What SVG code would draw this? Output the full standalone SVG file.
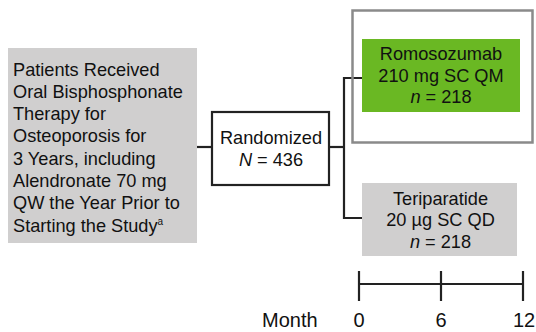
<svg xmlns="http://www.w3.org/2000/svg" width="536" height="332" viewBox="0 0 536 332">
<style>
text{font-family:"Liberation Sans",Arial,sans-serif;font-size:18.2px;fill:#111}
.c{text-anchor:middle}
.t{font-size:20px}
.ln{stroke:#222;stroke-width:2.2;fill:none}
</style>
<rect width="536" height="332" fill="#fff"/>
<g id="connectors" class="ln">
<line x1="197" y1="147" x2="212" y2="147"/>
<polyline points="329,147 344,147"/>
<polyline points="363,78 344,78 344,218 362,218"/>
</g>
<g id="patients">
<rect x="8" y="48" width="189" height="195" fill="#d0cfcf"/>
<text x="13" y="75.5">Patients Received</text>
<text x="13" y="97.8">Oral Bisphosphonate</text>
<text x="13" y="120.1">Therapy for</text>
<text x="13" y="142.4">Osteoporosis for</text>
<text x="13" y="164.7">3 Years, including</text>
<text x="13" y="187">Alendronate 70 mg</text>
<text x="13" y="209.3">QW the Year Prior to</text>
<text x="13" y="231.6">Starting the Study<tspan font-size="10" dy="-7">a</tspan></text>
</g>
<g id="randomized">
<rect x="212" y="112" width="117" height="73" fill="#fff" stroke="#222" stroke-width="2.2"/>
<text class="c" x="271" y="144">Randomized</text>
<text class="c" x="271" y="166"><tspan font-style="italic">N</tspan> = 436</text>
</g>
<g id="romosozumab-frame">
<rect x="352.5" y="10.5" width="180" height="132" fill="none" stroke="#8a8a8a" stroke-width="2.5"/>
</g>
<g id="romosozumab">
<rect x="362" y="39" width="158" height="73" fill="#6ab823"/>
<text class="c" x="441" y="60">Romosozumab</text>
<text class="c" x="441" y="82">210 mg SC QM</text>
<text class="c" x="441" y="103"><tspan font-style="italic">n</tspan> = 218</text>
</g>
<g id="teriparatide">
<rect x="362" y="183" width="155" height="73" fill="#d0cfcf"/>
<text class="c" x="440.5" y="205">Teriparatide</text>
<text class="c" x="440.5" y="226">20 µg SC QD</text>
<text class="c" x="440.5" y="247.5"><tspan font-style="italic">n</tspan> = 218</text>
</g>
<g id="timeline" class="ln">
<line x1="359" y1="284" x2="523" y2="284"/>
<line x1="359" y1="271" x2="359" y2="301"/>
<line x1="441" y1="271" x2="441" y2="301"/>
<line x1="523" y1="271" x2="523" y2="301"/>
</g>
<g id="timeline-labels">
<text class="t" x="262" y="327">Month</text>
<text class="c t" x="359" y="327">0</text>
<text class="c t" x="441" y="327">6</text>
<text class="c t" x="524" y="327">12</text>
</g>
</svg>
